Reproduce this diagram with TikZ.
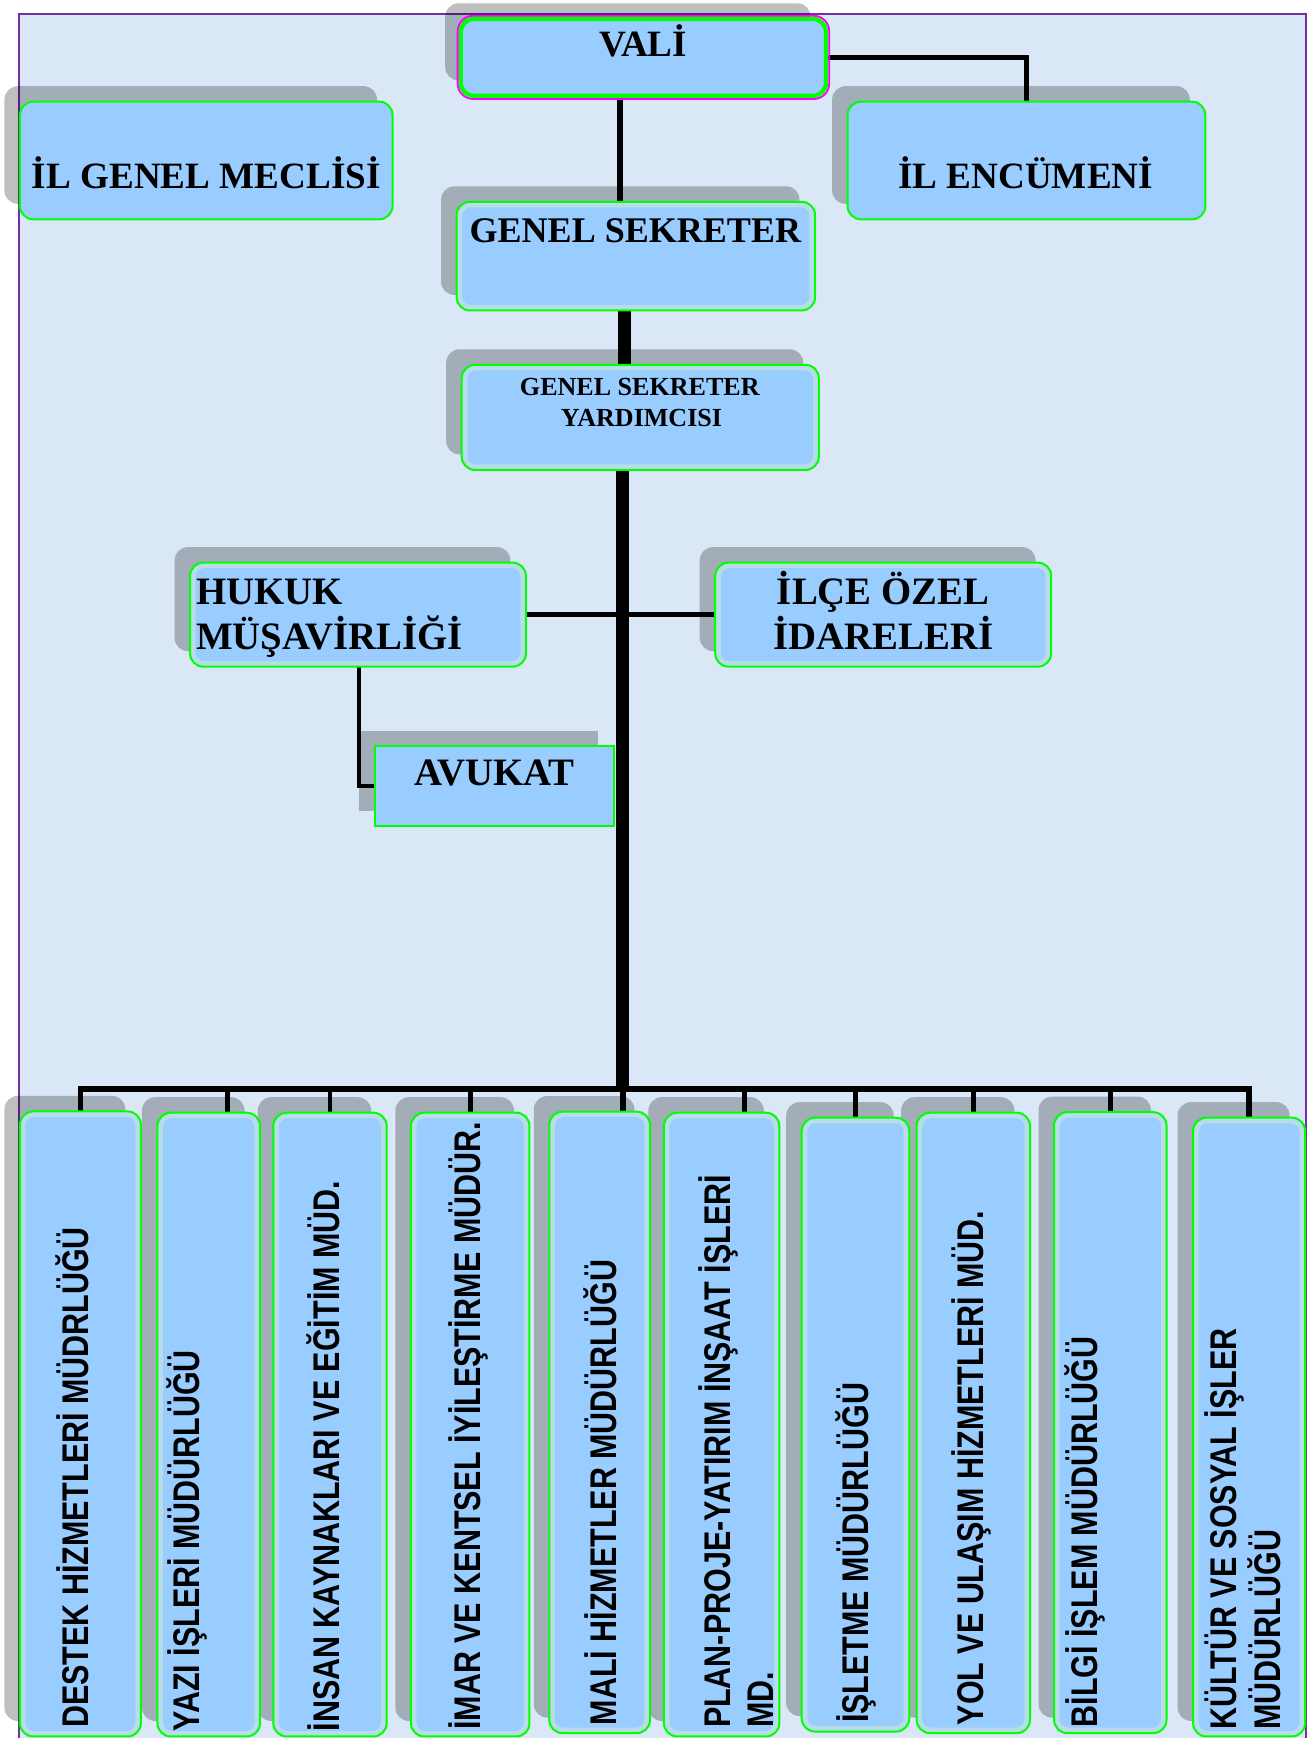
\documentclass[tikz,border=0pt]{standalone}
\usepackage{fontspec}
\setmainfont{Liberation Serif}
\newfontfamily\condsans[FakeStretch=0.82]{Liberation Sans}
\usetikzlibrary{calc}
\pgfdeclarelayer{bgl}
\pgfdeclarelayer{linel}
\pgfdeclarelayer{shadl}
\pgfsetlayers{bgl,linel,shadl,main}
\definecolor{pagebg}{RGB}{218,231,246}
\definecolor{boxblue}{RGB}{153,204,255}
\definecolor{band}{RGB}{183,222,232}
\definecolor{boxgreen}{RGB}{0,255,0}
\definecolor{framepurple}{RGB}{112,48,160}
\definecolor{valimag}{RGB}{255,0,255}
\tikzset{
 orgbox/.style={rectangle, rounded corners=12pt, draw=boxgreen, line width=1.8pt, fill=boxblue, inner sep=0pt, outer sep=0pt},
 bandbox/.style={orgbox, fill=band, path picture={\fill[boxblue, rounded corners=8pt] ([shift={(5pt,-5pt)}]path picture bounding box.north west) rectangle ([shift={(-5pt,5pt)}]path picture bounding box.south east);}},
 sqbox/.style={orgbox, sharp corners},
 valibox/.style={orgbox, line width=4pt},
 shadowfill/.style={fill=black, opacity=0.25},
 conn/.style={draw=black, line width=5pt},
 thinconn/.style={draw=black, line width=3.5pt},
 spine/.style={draw=black, line width=12pt},
 dropline/.style={draw=black, line width=4.5pt},
 serifbig/.style={font=\bfseries\fontsize{33.5}{38}\selectfont, inner sep=0pt},
 serifmid/.style={font=\bfseries\fontsize{32.5}{38}\selectfont, inner sep=0pt},
 seriflarge/.style={font=\bfseries\fontsize{35}{40}\selectfont, inner sep=0pt},
 serifsmall/.style={font=\bfseries\fontsize{23.5}{28}\selectfont, inner sep=0pt},
 vtext/.style={font=\condsans\bfseries\fontsize{33.5}{38}\selectfont, inner sep=0pt, rotate=90, anchor=base west},
}
\newcommand\orgnode[6]{\node[#1, minimum width={#4-#2}, minimum height={#5-#3}] (#6) at ({(#2+#4)/2},{(#3+#5)/2}) {};}
\newcommand\shadowof[2][12pt]{\fill[shadowfill, rounded corners=#1] ([shift={(-14pt,14pt)}]#2.north west) rectangle ([shift={(-14pt,14pt)}]#2.south east);}
\begin{document}
\begin{tikzpicture}[x=1pt,y=-1pt]
\useasboundingbox (0,0) rectangle (1185,1567.4);
\begin{pgfonlayer}{bgl}
\fill[white] (0,0) rectangle (1185,1567.4);
\fill[pagebg] (17,12.6) rectangle (1178,1580);
\draw[framepurple, line width=1.5pt] (17,1580) -- (17,12.6) -- (1178,12.6) -- (1178,1580);
\end{pgfonlayer}
% boxes
\orgnode{valibox}{415.5}{17}{745}{86.5}{vali}
\orgnode{orgbox}{18}{91.7}{354}{197.8}{meclis}
\orgnode{orgbox}{764.4}{91.7}{1087}{197.8}{encumen}
\orgnode{bandbox}{411.8}{182}{735}{280}{gs}
\orgnode{bandbox}{416.4}{329}{738.4}{423.8}{gsy}
\orgnode{bandbox}{171.4}{507.4}{474.3}{601.2}{hukuk}
\orgnode{bandbox}{645}{507.4}{948}{601.2}{ilce}
\orgnode{sqbox}{338}{673}{553.7}{745}{avukat}
\orgnode{bandbox}{18}{1002.3}{127}{1566}{b1}
\orgnode{bandbox}{142}{1003.5}{234.5}{1566}{b2}
\orgnode{bandbox}{246.5}{1003.5}{348.7}{1566}{b3}
\orgnode{bandbox}{370.6}{1003.5}{477.5}{1566}{b4}
\orgnode{bandbox}{495.4}{1002.5}{586.2}{1563}{b5}
\orgnode{bandbox}{598.8}{1003.5}{702.8}{1566}{b6}
\orgnode{bandbox}{723}{1008}{820}{1561.6}{b7}
\orgnode{bandbox}{826.7}{1003.5}{928.9}{1563}{b8}
\orgnode{bandbox}{950.6}{1003}{1052}{1563}{b9}
\orgnode{bandbox}{1076}{1008}{1177}{1566}{b10}
\draw[valimag, line width=1.6pt, rounded corners=14pt] ([shift={(-2.8pt,2.8pt)}]vali.north west) rectangle ([shift={(2.8pt,-2.8pt)}]vali.south east);
% shadows
\begin{pgfonlayer}{shadl}
\shadowof{vali}\shadowof{meclis}\shadowof{encumen}\shadowof{gs}\shadowof{gsy}
\shadowof{hukuk}\shadowof{ilce}\shadowof[0pt]{avukat}
\foreach \b in {b1,b2,b3,b4,b5,b6,b7,b8,b9,b10}{\shadowof{\b}}
\end{pgfonlayer}
% connectors
\coordinate (sp1) at (559,0);
\coordinate (sp2) at (563,0);
\coordinate (sp3) at (561.5,0);
\coordinate (bus) at (561.5,982);
\coordinate (hk) at (323.6,0);
\begin{pgfonlayer}{linel}
\draw[conn] (vali.south -| sp1) -- (gs.north -| sp1);
\draw[conn, line join=miter] (vali.east) -| (encumen.north);
\draw[spine] (gs.south -| sp2) -- (gsy.north -| sp2);
\draw[spine] (gsy.south -| sp3) -- ([yshift=-3pt]bus);
\draw[conn] (hukuk.east) -- (hukuk.east -| sp3);
\draw[conn] (ilce.west) -- (ilce.west -| sp3);
\draw[thinconn, line join=miter] (hukuk.south -| hk) |- (avukat.west);
\draw[conn, line join=miter] (b1.north) -- (b1.north |- bus) -- (b10.north |- bus) -- (b10.north);
\draw[dropline] ([xshift=17pt]b2.north) -- ([xshift=17pt]b2.north |- bus);
\draw[dropline] (b3.north) -- (b3.north |- bus);
\draw[dropline] (b4.north) -- (b4.north |- bus);
\draw[dropline, line width=5.4pt] ([xshift=20.8pt]b5.north) -- ([xshift=20.8pt]b5.north |- bus);
\draw[dropline] ([xshift=21pt]b6.north) -- ([xshift=21pt]b6.north |- bus);
\draw[dropline] (b7.north) -- (b7.north |- bus);
\draw[dropline] (b8.north) -- (b8.north |- bus);
\draw[dropline] (b9.north) -- (b9.north |- bus);
\end{pgfonlayer}
% texts
\node[serifbig, anchor=base] (valiT) at (580,51.4) {VALİ};
\node[serifbig, anchor=base] (meclisT) at (186,169.8) {İL GENEL MECLİSİ};
\node[serifbig, anchor=base] (encumenT) at (925,169.8) {İL ENCÜMENİ};
\node[serifmid, anchor=base] (gsT) at (573,219) {GENEL SEKRETER};
\node[serifsmall, anchor=base] (gsyT1) at (577,356.8) {GENEL SEKRETER};
\node[serifsmall, anchor=base] (gsyT2) at (578.5,384.8) {YARDIMCISI};
\node[seriflarge, anchor=base west] (hukukT1) at (176.8,545.6) {HUKUK};
\node[seriflarge, anchor=base west] (hukukT2) at (176.8,586) {MÜŞAVİRLİĞİ};
\node[seriflarge, anchor=base] (ilceT1) at (796.5,545.6) {İLÇE ÖZEL};
\node[seriflarge, anchor=base] (ilceT2) at (796.5,586) {İDARELERİ};
\node[seriflarge, anchor=base] (avukatT) at (446,708) {AVUKAT};
\node[vtext] (t1) at (79.6,1558.5) {DESTEK HİZMETLERİ MÜDRLÜĞÜ};
\node[vtext] (t2) at (179.7,1561.6) {YAZI İŞLERİ MÜDÜRLÜĞÜ};
\node[vtext] (t3) at (306.6,1561.6) {İNSAN KAYNAKLARI VE EĞİTİM MÜD.};
\node[vtext] (t4) at (433,1560) {İMAR VE KENTSEL İYİLEŞTİRME MÜDÜR.};
\node[vtext] (t5) at (556,1556) {MALİ HİZMETLER MÜDÜRLÜĞÜ};
\node[vtext] (t6a) at (659,1558.5) {PLAN-PROJE-YATIRIM İNŞAAT İŞLERİ};
\node[vtext] (t6b) at (697.4,1558.5) {MD.};
\node[vtext] (t7) at (783,1554) {İŞLETME MÜDÜRLÜĞÜ};
\node[vtext] (t8) at (887,1556) {YOL VE ULAŞIM HİZMETLERİ MÜD.};
\node[vtext] (t9) at (990,1558) {BİLGİ İŞLEM MÜDÜRLÜĞÜ};
\node[vtext] (t10a) at (1115,1560) {KÜLTÜR VE SOSYAL İŞLER};
\node[vtext] (t10b) at (1154.4,1560) {MÜDÜRLÜĞÜ};
\end{tikzpicture}
\end{document}
